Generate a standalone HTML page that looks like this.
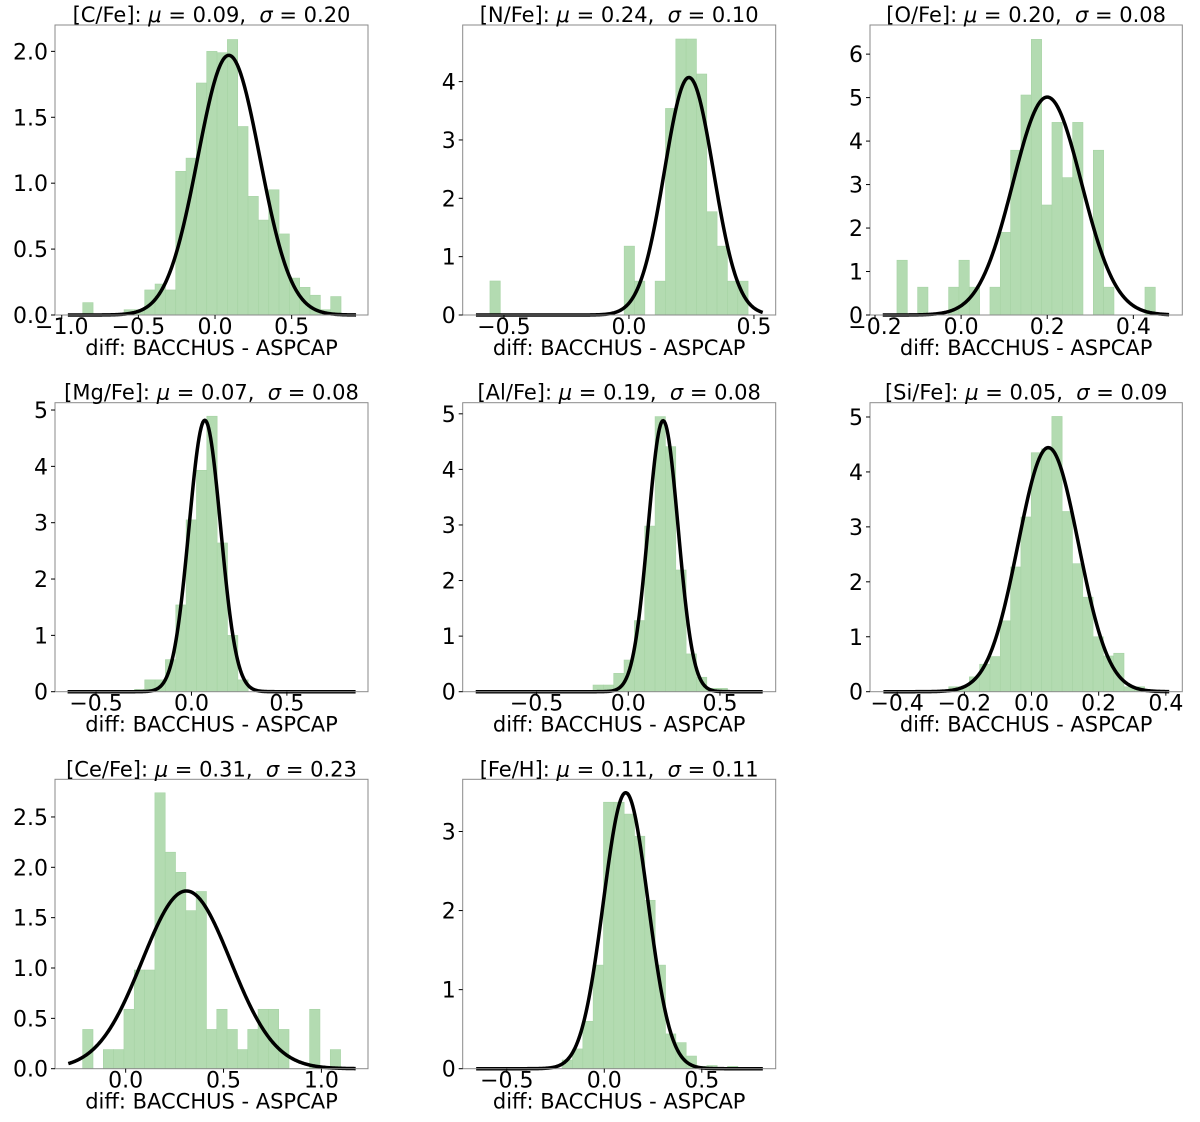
<!DOCTYPE html>
<html><head><meta charset="utf-8">
<style>
body{margin:0;background:#fff;}
svg text{font-family:"DejaVu Sans","Liberation Sans",sans-serif;fill:#000;white-space:pre;}
</style></head>
<body>
<svg id="fig" width="1200" height="1117" viewBox="0 0 1200 1117" xmlns="http://www.w3.org/2000/svg"></svg>
<script>
// ---- data ----
const panelNames = ["[C/Fe]","[N/Fe]","[O/Fe]","[Mg/Fe]","[Al/Fe]","[Si/Fe]","[Ce/Fe]","[Fe/H]"];
const muLabels = ["0.09","0.24","0.20","0.07","0.19","0.05","0.31","0.11"];
const sigmaLabels = ["0.20","0.10","0.08","0.08","0.08","0.09","0.23","0.11"];
const fitMu = [0.09,0.24,0.20,0.07,0.19,0.05,0.31,0.11];
const fitSigma = [0.2025,0.098,0.0796,0.0828,0.0818,0.0898,0.226,0.1143];
const binStart = [-0.863,-0.556,-0.149,-0.299,-0.305,-0.2465,-0.2196,-0.216];
const binWidth = [0.0674,0.0413,0.024,0.0542,0.0564,0.0307,0.0527,0.053];
const binValues = [
 [0.094,0,0,0,0.04,0.04,0.19,0.235,0.19,1.09,1.19,1.76,2.0,1.99,2.09,1.43,0.90,0.72,0.95,0.615,0.28,0.21,0.15,0.04,0.14],
 [0.583,0,0,0,0,0,0,0,0,0,0,0,0,1.18,0.58,0,0.58,3.54,4.73,4.73,4.13,1.77,1.18,0.58,0.58],
 [1.26,0,0.64,0,0,0.64,1.26,0.64,0,0.64,1.9,3.79,5.06,6.34,2.53,4.43,3.16,4.43,0,3.79,0.64,0,0,0,0.64],
 [0.04,0.21,0.21,0.57,1.54,3.05,3.93,4.89,2.64,1.0,0.21],
 [0.02,0,0.12,0.12,0.33,0.57,1.28,2.98,4.95,4.41,2.19,0.68,0.26,0.06,0.06],
 [0.09,0.09,0.27,0.5,0.64,1.29,2.27,3.18,4.35,4.42,5.01,3.28,2.33,1.72,1.0,0.65,0.70,0.09,0.09],
 [0.39,0,0.19,0.19,0.59,0.98,0.98,2.74,2.15,1.95,1.57,1.76,0.39,0.59,0.39,0.19,0.39,0.59,0.59,0.39,0,0,0.59,0,0.19],
 [0.11,0.25,0.60,1.31,3.37,3.37,3.22,2.94,2.13,1.31,0.44,0.33,0.16,0.03,0.04,0.01,0.03]
];
const curveMin = [-0.96,-0.612,-0.182,-0.649,-0.832,-0.441,-0.293,-0.657];
const curveMax = [0.92,0.535,0.483,0.86,0.733,0.41,1.175,0.813];
const xDomainMin = [-1.044,-0.665,-0.2116,-0.715,-0.903,-0.481,-0.361,-0.726];
const xDomainMax = [0.998,0.587,0.5137,0.925,0.804,0.449,1.238,0.879];
const yDomainMax = [2.2,4.97,6.67,5.13,5.2,5.26,2.874,3.66];
const xTickLabels = [
 ["−1.0","−0.5","0.0","0.5"],["−0.5","0.0","0.5"],["−0.2","0.0","0.2","0.4"],
 ["−0.5","0.0","0.5"],["−0.5","0.0","0.5"],["−0.4","−0.2","0.0","0.2","0.4"],
 ["0.0","0.5","1.0"],["−0.5","0.0","0.5"]];
const yTickLabels = [
 ["0.0","0.5","1.0","1.5","2.0"],["0","1","2","3","4"],["0","1","2","3","4","5","6"],
 ["0","1","2","3","4","5"],["0","1","2","3","4","5"],["0","1","2","3","4","5"],
 ["0.0","0.5","1.0","1.5","2.0","2.5"],["0","1","2","3"]];

// ---- layout ----
const colX = [[55,368],[462.7,775.7],[870,1182.3]];
const rowY = [[25,315],[402.7,691.7],[779.3,1068.7]];
const NS="http://www.w3.org/2000/svg";
const svg=document.getElementById('fig');
function mk(tag,attrs,parent){const e=document.createElementNS(NS,tag);for(const k in attrs)e.setAttribute(k,attrs[k]);(parent||svg).appendChild(e);return e;}
const num=s=>parseFloat(s.replace('−','-'));

for(let p=0;p<8;p++){
  const [x0,x1]=colX[p%3],[y0,y1]=rowY[Math.floor(p/3)];
  const g=mk('g',{});
  
  
  const xs=v=>x0+(v-xDomainMin[p])/(xDomainMax[p]-xDomainMin[p])*(x1-x0);
  const ys=v=>y1-v/yDomainMax[p]*(y1-y0);
  binValues[p].forEach((v,i)=>{
    if(v<=0)return;
    const a=xs(binStart[p]+i*binWidth[p]),b=xs(binStart[p]+(i+1)*binWidth[p]);
    const r=mk('rect',{x:a,y:ys(v),width:b-a,height:y1-ys(v),fill:'#b3dbb1',stroke:'#a6d3a4','stroke-width':0.6},g);
    
    
  });
  let d='';const n=300;
  for(let k=0;k<=n;k++){const x=curveMin[p]+(curveMax[p]-curveMin[p])*k/n;
    const yv=Math.exp(-0.5*Math.pow((x-fitMu[p])/fitSigma[p],2))/(fitSigma[p]*Math.sqrt(2*Math.PI));
    d+=(k?'L':'M')+xs(x).toFixed(2)+','+ys(yv).toFixed(2);}
  const c=mk('path',{d:d,fill:'none',stroke:'#000','stroke-width':3.5,'stroke-linejoin':'round'},g);
  
  
  const f=mk('rect',{x:x0,y:y0,width:x1-x0,height:y1-y0,fill:'none',stroke:'#8a8a8a','stroke-width':1},g);
  
  
  xTickLabels[p].forEach(s=>{const x=xs(num(s));
    mk('line',{x1:x,x2:x,y1:y1,y2:y1+4,stroke:'#000','stroke-width':1},g);
    const t=mk('text',{x:x,y:y1+19,'font-size':22,'text-anchor':'middle'},g);t.textContent=s;
    
    });
  yTickLabels[p].forEach(s=>{const y=ys(num(s));
    mk('line',{x1:x0-4,x2:x0,y1:y,y2:y,stroke:'#000','stroke-width':1},g);
    const t=mk('text',{x:x0-7,y:y+8,'font-size':22,'text-anchor':'end'},g);t.textContent=s;
    
    });
  const tt=mk('text',{x:(x0+x1)/2,y:y0-3,'font-size':21,'text-anchor':'middle'},g);
  tt.innerHTML=panelNames[p]+': <tspan font-family="DejaVu Sans" font-style="italic">μ</tspan> = '+muLabels[p]+',  <tspan font-family="DejaVu Sans" font-style="italic">σ</tspan> = '+sigmaLabels[p];
  
  
  const xl=mk('text',{x:(x0+x1)/2,y:y1+40,'font-size':21,'text-anchor':'middle'},g);
  xl.textContent='diff: BACCHUS - ASPCAP';
  
  
}
</script>
</body></html>
